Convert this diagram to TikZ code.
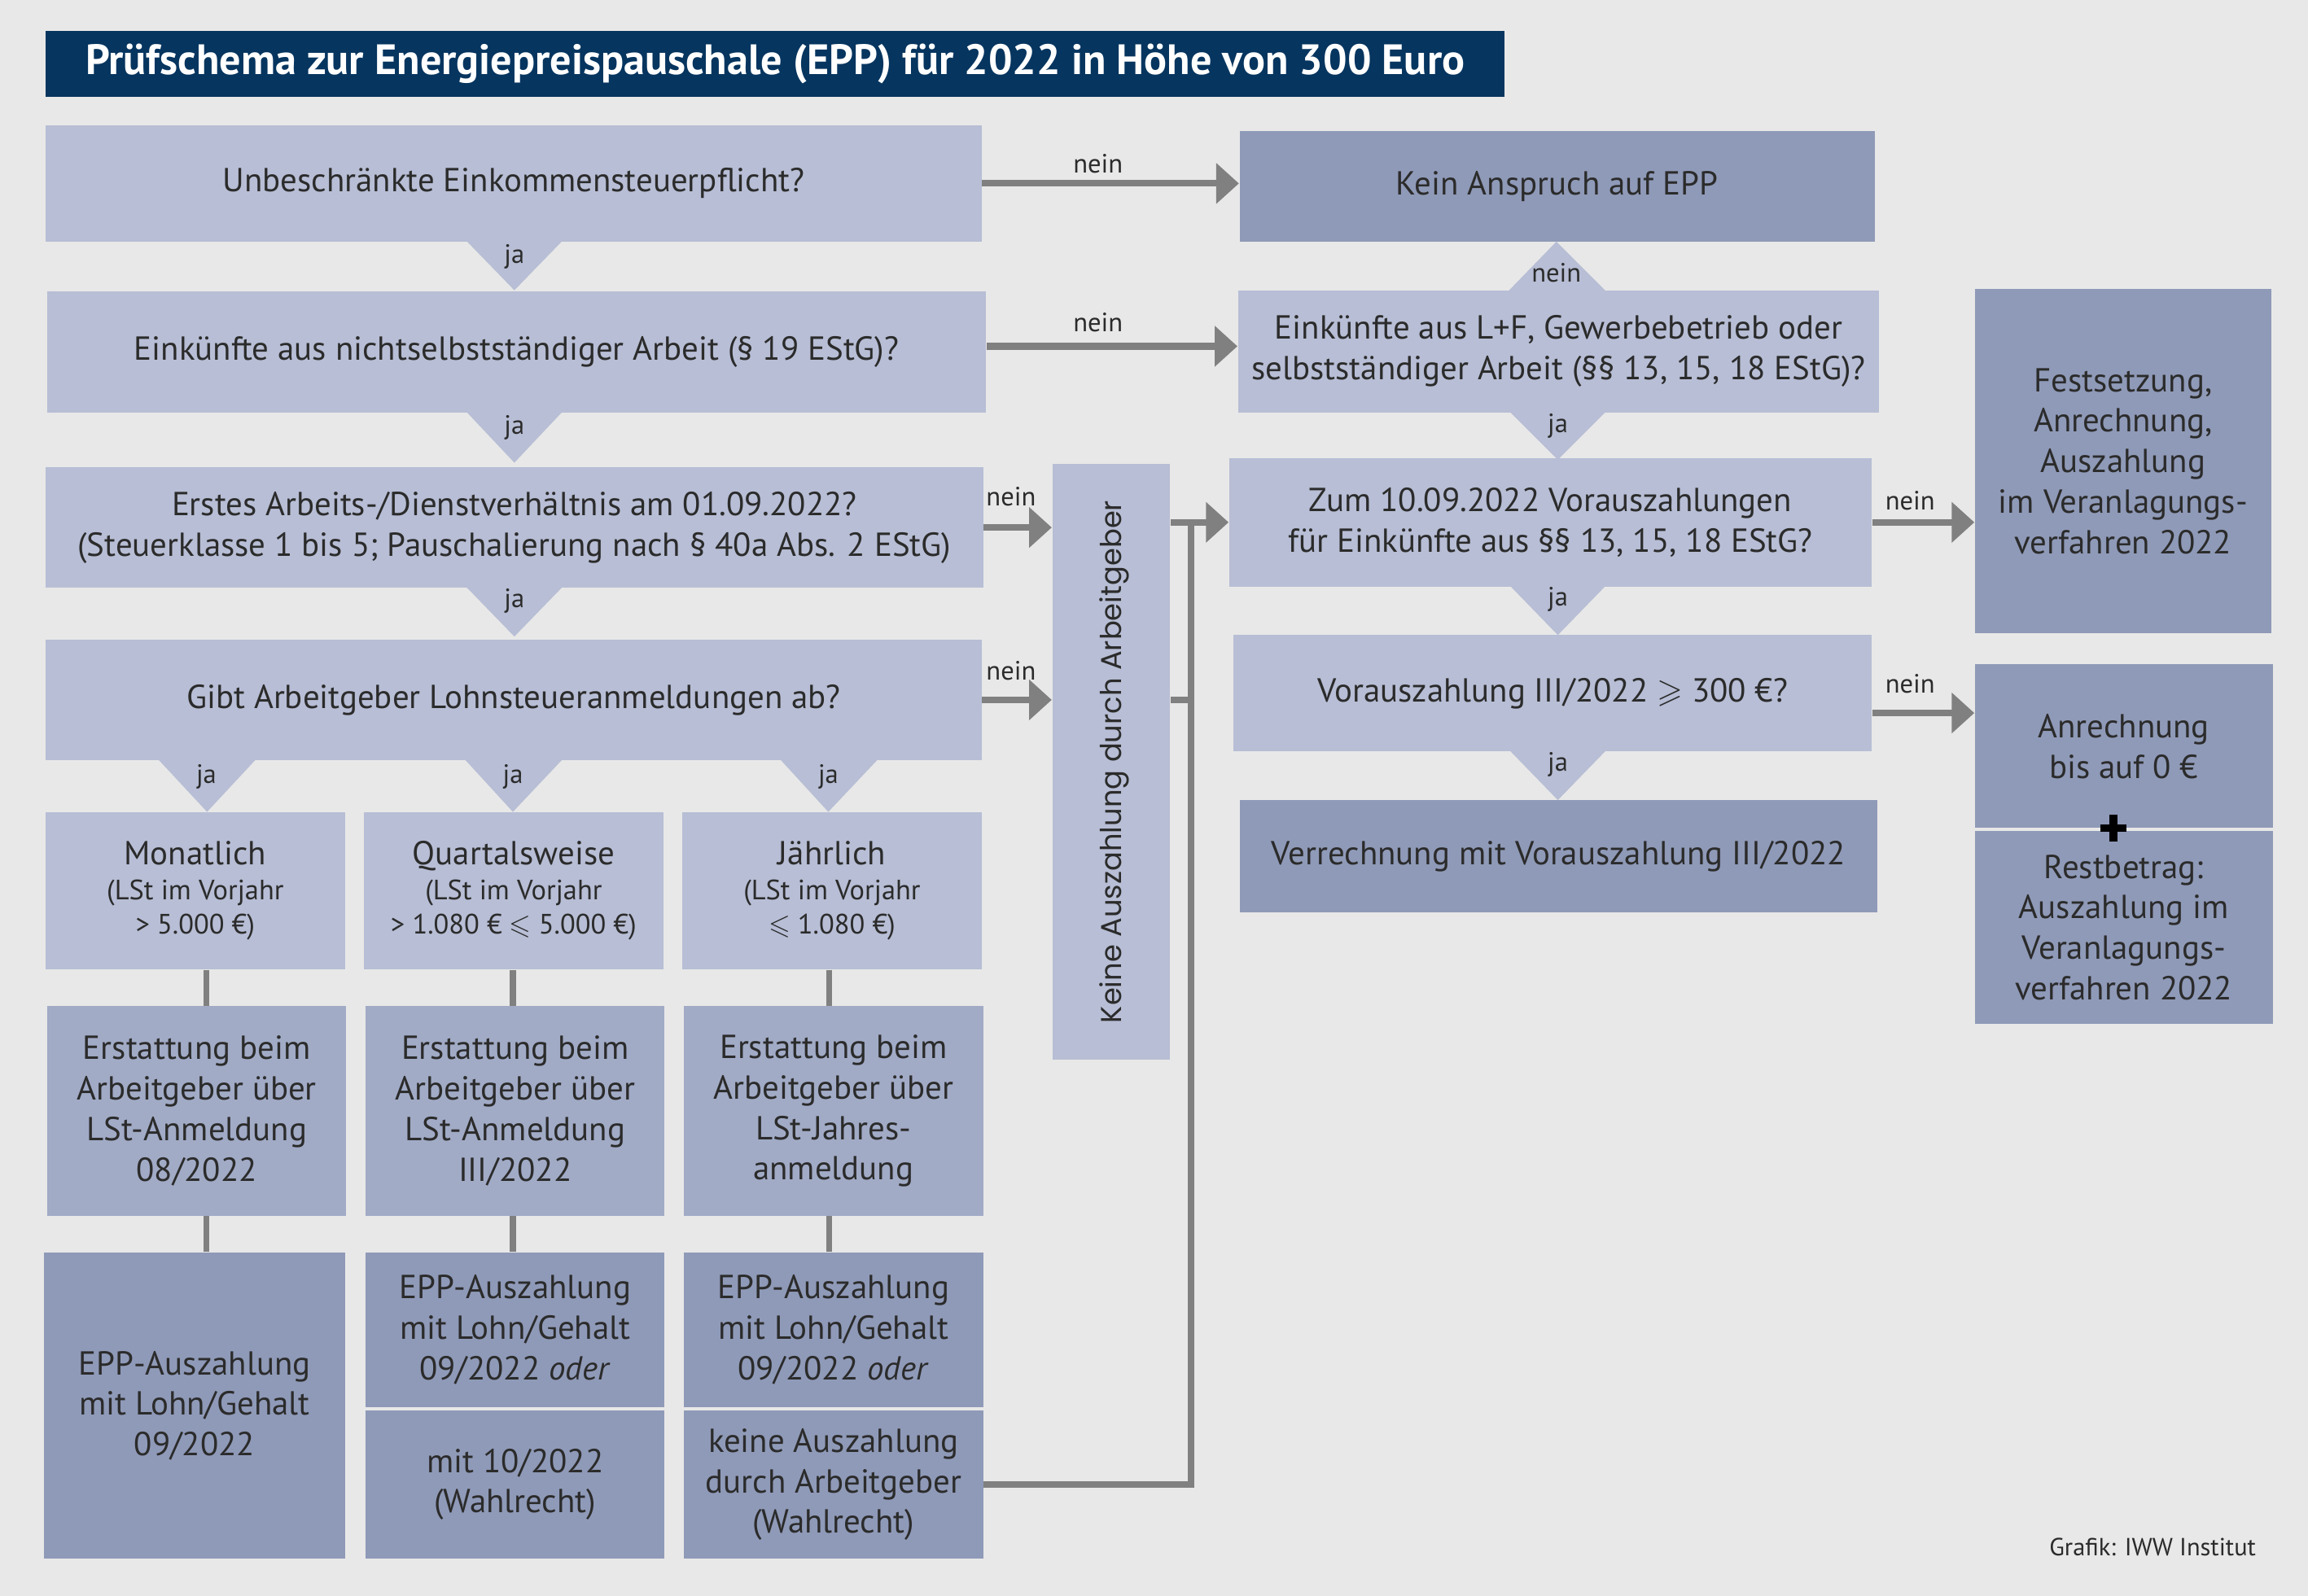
\documentclass[tikz,border=0pt]{standalone}
\usepackage{amssymb}
\usepackage{fontspec}
\setmainfont{PT Sans}
\newfontfamily\geofont{Poppins}
\usetikzlibrary{arrows.meta}
\definecolor{bgc}{HTML}{E8E8E8}
\definecolor{titlec}{HTML}{06355F}
\definecolor{lightc}{HTML}{B7BED5}
\definecolor{medc}{HTML}{A1ABC6}
\definecolor{darkc}{HTML}{8F9AB8}
\definecolor{connc}{HTML}{808080}
\definecolor{txt}{HTML}{2B2B2B}
\newcommand\mkbox[7]{%
 \pgfmathsetmacro\mbcx{(#2+#4)/2}%
 \pgfmathsetmacro\mbcy{(#3+#5)/2}%
 \pgfmathsetmacro\mbww{(#4-#2)*0.5}%
 \pgfmathsetmacro\mbhh{(#5-#3)*0.5}%
 \node[box,#6,minimum width=\mbww pt,minimum height=\mbhh pt] (#1) at (\mbcx,\mbcy) {#7};}
\newcommand\smtxt[1]{{\fontsize{9.5}{11.75}\selectfont #1}}
\begin{document}
\begin{tikzpicture}[x=0.5pt,y=-0.5pt,
  box/.style={inner sep=0pt, align=center, text=txt, font=\fontsize{11.3}{13.75}\selectfont},
  lt/.style={fill=lightc},
  md/.style={fill=medc},
  dk/.style={fill=darkc},
  sub/.style={font=\fontsize{11.3}{11.75}\selectfont},
  lbl/.style={inner sep=0pt, text=txt, font=\fontsize{9}{10}\selectfont},
  arr/.style={draw=connc, line width=2.25pt, -{Triangle[length=7.7pt,width=13.4pt]}},
  conn/.style={draw=connc, line width=2pt}]
\useasboundingbox (0,0) rectangle (1566,1083.2);
\fill[bgc] (0,0) rectangle (1566,1083.2);
% title
\mkbox{title}{31}{21}{1021}{66}{fill=titlec,text=white,font=\fontsize{14.4}{16}\selectfont\bfseries}{Prüfschema zur Energiepreispauschale (EPP) für 2022 in Höhe von 300 Euro}
% left column
\mkbox{b1}{31}{85}{666}{164}{lt}{Unbeschränkte Einkommensteuerpflicht?}
\mkbox{b2}{32}{198}{669}{280}{lt}{Einkünfte aus nichtselbstständiger Arbeit (§ 19 EStG)?}
\mkbox{b3}{31}{317}{667}{399}{lt}{Erstes Arbeits-/Dienstverhältnis am 01.09.2022?\\(Steuerklasse 1 bis 5; Pauschalierung nach § 40a Abs. 2 EStG)}
\mkbox{b4}{31}{434}{666}{516}{lt}{Gibt Arbeitgeber Lohnsteueranmeldungen ab?}
\mkbox{mA}{31}{551}{234}{658}{lt,sub}{Monatlich\\\smtxt{(LSt im Vorjahr}\\\smtxt{> 5.000 €)}}
\mkbox{mB}{247}{551}{450}{658}{lt,sub}{Quartalsweise\\\smtxt{(LSt im Vorjahr}\\\smtxt{> 1.080 € $\leqslant$ 5.000 €)}}
\mkbox{mC}{463}{551}{666}{658}{lt,sub}{Jährlich\\\smtxt{(LSt im Vorjahr}\\\smtxt{$\leqslant$ 1.080 €)}}
\mkbox{eA}{32}{683}{235}{825}{md}{Erstattung beim\\Arbeitgeber über\\LSt-Anmeldung\\08/2022}
\mkbox{eB}{248}{683}{451}{825}{md}{Erstattung beim\\Arbeitgeber über\\LSt-Anmeldung\\III/2022}
\mkbox{eC}{464}{683}{667}{825}{md}{Erstattung beim\\Arbeitgeber über\\LSt-Jahres-\\anmeldung}
\mkbox{pA}{30}{850}{234}{1058}{dk}{EPP-Auszahlung\\mit Lohn/Gehalt\\09/2022}
\mkbox{pB1}{248}{850}{451}{955}{dk}{EPP-Auszahlung\\mit Lohn/Gehalt\\09/2022 \textit{oder}}
\mkbox{pB2}{248}{957}{451}{1058}{dk}{mit 10/2022\\(Wahlrecht)}
\mkbox{pC1}{464}{850}{667}{955}{dk}{EPP-Auszahlung\\mit Lohn/Gehalt\\09/2022 \textit{oder}}
\mkbox{pC2}{464}{957}{667}{1058}{dk}{keine Auszahlung\\durch Arbeitgeber\\(Wahlrecht)}
% vertical box
\mkbox{vert}{714}{315}{794}{719}{lt}{}
\node[rotate=90, inner sep=0pt, text=txt, font=\geofont\fontsize{9.75}{11}\selectfont] (vertT) at (756,517) {Keine Auszahlung durch Arbeitgeber};
% right part
\mkbox{kein}{841}{89}{1272}{164}{dk}{Kein Anspruch auf EPP}
\mkbox{lf}{840}{197}{1275}{280}{lt}{Einkünfte aus L+F, Gewerbebetrieb oder\\selbstständiger Arbeit (§§ 13, 15, 18 EStG)?}
\mkbox{zum}{834}{311}{1270}{398}{lt}{Zum 10.09.2022 Vorauszahlungen\\für Einkünfte aus §§ 13, 15, 18 EStG?}
\mkbox{vor}{837}{431}{1270}{510}{lt}{Vorauszahlung III/2022 $\geqslant$ 300 €?}
\mkbox{verr}{841}{543}{1274}{619}{dk}{Verrechnung mit Vorauszahlung III/2022}
\mkbox{fest}{1340}{196}{1541}{430}{dk}{Festsetzung,\\Anrechnung,\\Auszahlung\\im Veranlagungs-\\verfahren 2022}
\mkbox{anr}{1340}{451}{1542}{562}{dk}{Anrechnung\\bis auf 0 €}
\mkbox{rest}{1340}{564}{1542}{695}{dk}{Restbetrag:\\Auszahlung im\\Veranlagungs-\\verfahren 2022}
% triangles
\fill[lightc] (316,163) -- (382,163) -- (349,197) -- cycle;
\fill[lightc] (316,279) -- (382,279) -- (349,314) -- cycle;
\fill[lightc] (316,398) -- (382,398) -- (349,432) -- cycle;
\fill[lightc] (107,515) -- (174,515) -- (140.5,551) -- cycle;
\fill[lightc] (315,515) -- (382,515) -- (348,551) -- cycle;
\fill[lightc] (529,515) -- (596,515) -- (562,551) -- cycle;
\fill[lightc] (1023,198) -- (1090,198) -- (1056,164) -- cycle;
\fill[lightc] (1024,279) -- (1090,279) -- (1057,312) -- cycle;
\fill[lightc] (1024,397) -- (1090,397) -- (1057,431) -- cycle;
\fill[lightc] (1024,509) -- (1090,509) -- (1057,543) -- cycle;
\node[lbl] (j1) at (349,174) {ja};
\node[lbl] (j2) at (349,290) {ja};
\node[lbl] (j3) at (349,408) {ja};
\node[lbl] (j4a) at (140,527) {ja};
\node[lbl] (j4b) at (348,527) {ja};
\node[lbl] (j4c) at (562,527) {ja};
\node[lbl] (nup) at (1056,185) {nein};
\node[lbl] (j5) at (1057,289) {ja};
\node[lbl] (j6) at (1057,407) {ja};
\node[lbl] (j7) at (1057,519) {ja};
% plus sign
\draw[line width=2.6pt, black] (1425,562) -- (1443,562) (1434,553) -- (1434,571);
% connectors
\coordinate (colA) at (140,0);
\coordinate (colB) at (348,0);
\coordinate (colC) at (562.5,0);
\coordinate (trunk) at (808,0);
\draw[conn] (mA.south -| colA) -- (eA.north -| colA);
\draw[conn] (mB.south -| colB) -- (eB.north -| colB);
\draw[conn] (mC.south -| colC) -- (eC.north -| colC);
\draw[conn] (eA.south -| colA) -- (pA.north -| colA);
\draw[conn] (eB.south -| colB) -- (pB1.north -| colB);
\draw[conn] (eC.south -| colC) -- (pC1.north -| colC);
\draw[arr] (b1.east) -- (b1.east -| kein.west);
\draw[arr] ([yshift=2pt]b2.east) -- ([yshift=2pt]b2.east -| lf.west);
\draw[arr] (b3.east) -- (b3.east -| vert.west);
\draw[arr] (b4.east) -- (b4.east -| vert.west);
\draw[conn,line width=2.25pt] (pC2.east) -| (trunk |- zum.west);
\draw[conn,line width=2.25pt] (vert.east |- b4.east) -- (trunk |- b4.east);
\draw[arr] (vert.east |- zum.west) -- (zum.west);
\draw[arr] (zum.east) -- (zum.east -| fest.west);
\draw[arr] ([yshift=-6.7pt]vor.east) -- ([yshift=-6.7pt]vor.east -| anr.west);
\node[lbl] (n1) at (745,111) {nein};
\node[lbl] (n2) at (745,219) {nein};
\node[lbl] (n3) at (686,337) {nein};
\node[lbl] (n4) at (686,455) {nein};
\node[lbl] (n5) at (1296,340) {nein};
\node[lbl] (n6) at (1296,464) {nein};
\node[lbl, anchor=east, font=\fontsize{8.4}{10}\selectfont] (graf) at (1531,1050) {Grafik: IWW Institut};
\end{tikzpicture}
\end{document}
